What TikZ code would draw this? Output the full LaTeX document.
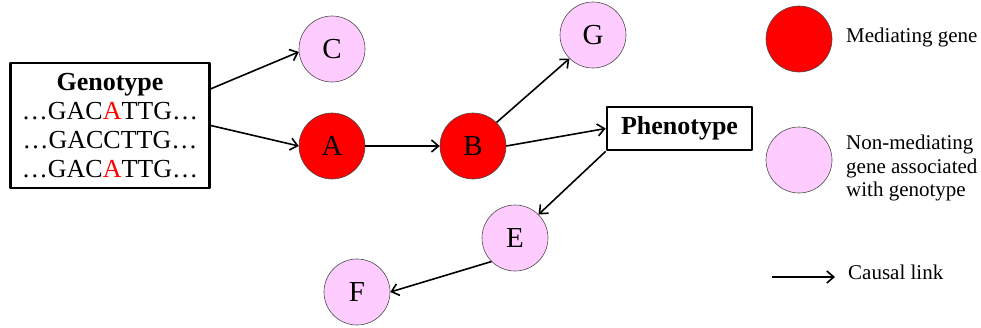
\documentclass[tikz,border=0pt]{standalone}
\usepackage{fontspec}
\setmainfont{Liberation Serif}
\usetikzlibrary{arrows.meta}
\definecolor{medred}{RGB}{255,0,0}
\definecolor{genepink}{RGB}{255,204,255}
\begin{document}
\begin{tikzpicture}[x=1pt, y=-1pt, line join=round,
	gene/.style={circle, draw=black!70, line width=0.6pt, fill=genepink, minimum size=66pt, inner sep=0pt, font=\fontsize{29}{30}\selectfont},
	mediator/.style={gene, fill=medred},
	textbox/.style={draw, line width=2.6pt, inner sep=0pt, font=\fontsize{26}{29}\selectfont},
	link/.style={line width=1.6pt, -{Straight Barb[length=7pt, width=12pt, line width=1.6pt]}},
	legend/.style={anchor=west, inner sep=0pt, align=left, font=\fontsize{21}{23.3}\selectfont}]
	\useasboundingbox (0,0) rectangle (981,327);
	\node[textbox, align=center, minimum width=199pt, minimum height=125pt] (geno) at (110,125.5)
		{\textbf{Genotype}\\…GAC\textcolor{medred}{A}TTG…\\…GACCTTG…\\…GAC\textcolor{medred}{A}TTG…};
	\node[textbox, font=\fontsize{26}{29}\selectfont\bfseries, minimum width=145pt, minimum height=43pt] (pheno) at (679.5,128.5) {Phenotype};
	\node[gene] (C) at (332,49) {C};
	\node[mediator] (A) at (332,146) {A};
	\node[mediator] (B) at (473,146) {B};
	\node[gene] (G) at (593,35) {G};
	\node[gene] (E) at (515,238) {E};
	\node[gene] (F) at (357,292) {F};
	\draw[link] (geno.20) -- (C.185);
	\draw[link] (geno.east) -- (A.west);
	\draw[link] (A) -- (B);
	\draw[link] (B.45) -- (G.225);
	\draw[link] (B.east) -- (pheno.west);
	\draw[link] (pheno.south west) -- (E.45);
	\draw[link] (E.225) -- (F.east);
	% legend
	\node[mediator] (m) at (799,39) {};
	\node[gene] (n) at (799,160) {};
	\node[legend] (mtext) at (846,37) {Mediating gene};
	\node[legend] (ntext) at (846,168) {Non-mediating\\gene associated\\with genotype};
	\coordinate (l1) at (772,277);
	\coordinate (l2) at (835,277);
	\draw[link] (l1) -- (l2);
	\node[legend] (ltext) at (848,272) {Causal link};
\end{tikzpicture}
\end{document}
